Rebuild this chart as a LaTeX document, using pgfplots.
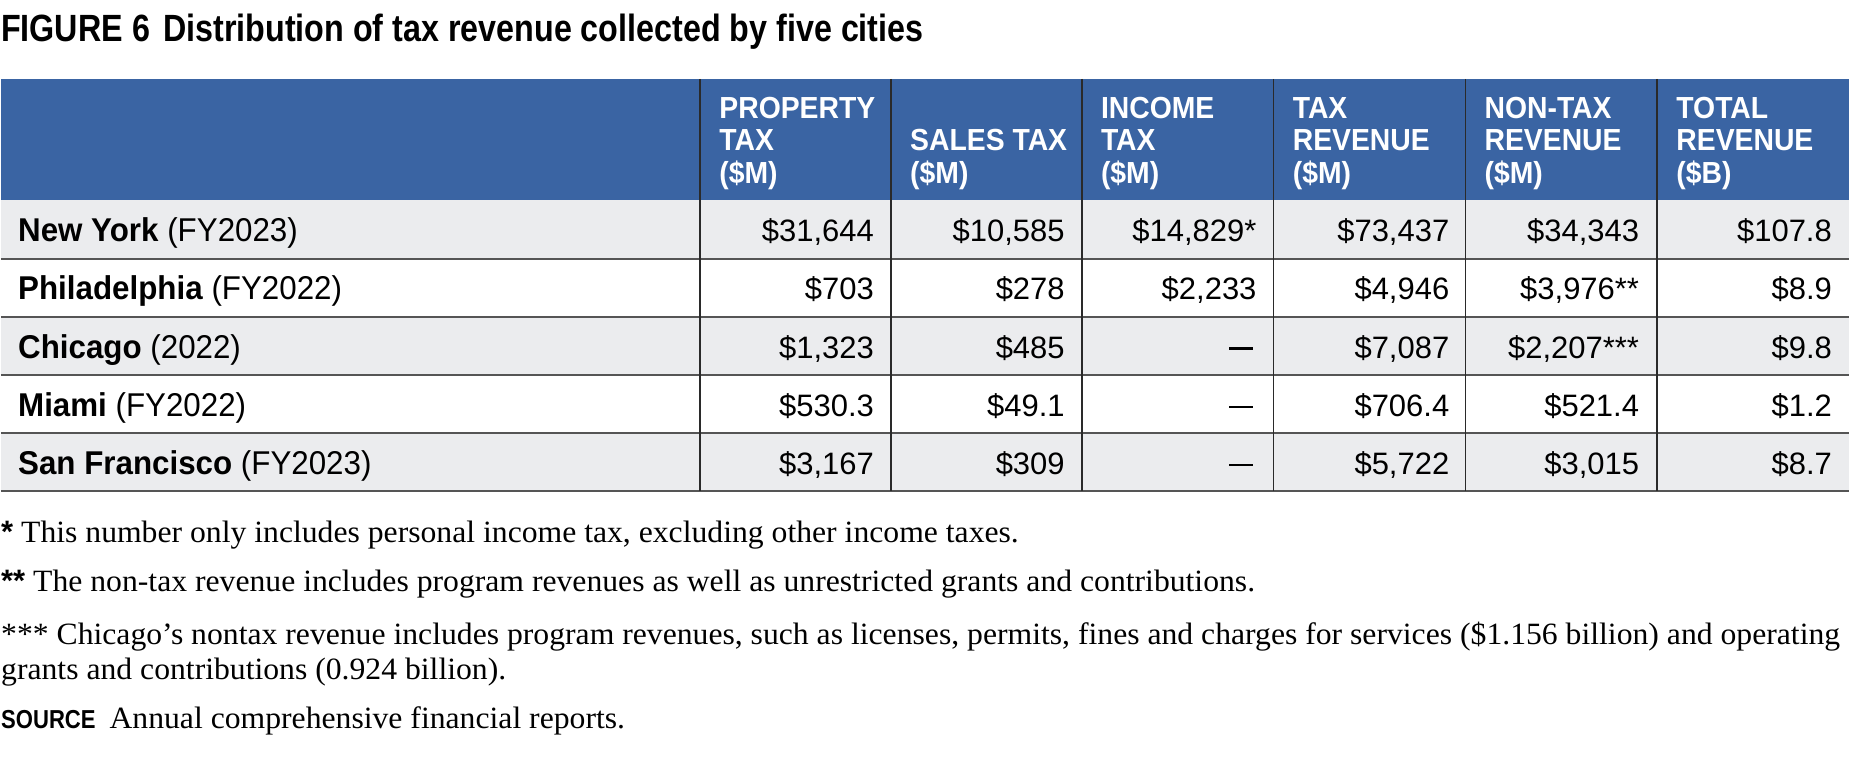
\documentclass[border=0pt]{standalone}
\usepackage{fontspec}
\usepackage{pgfplots}
\pgfplotsset{compat=1.18}
\setmainfont{Liberation Serif}
\newfontfamily\titlefont[FakeStretch=0.85]{Liberation Sans}
\newfontfamily\headfont[FakeStretch=0.93]{Liberation Sans}
\newfontfamily\cityfont[FakeStretch=0.95]{Liberation Sans}
\newfontfamily\numfont{Liberation Sans}
\newfontfamily\notefont[FakeStretch=1.023]{Liberation Serif}
\definecolor{hdrblue}{HTML}{3A64A3}
\definecolor{rowgrey}{HTML}{EBECEE}
\definecolor{rule}{HTML}{555555}
\definecolor{vrule}{HTML}{2A2A2A}
\newcommand{\nodash}{\rule[8.5pt]{24pt}{2.4pt}}
\begin{document}
\begin{tikzpicture}
\begin{axis}[
  width=1850pt, height=775pt, scale only axis,
  xmin=0, xmax=1850, ymin=0, ymax=775, y dir=reverse,
  hide axis, clip=false, anchor=origin, at={(0,0)}]
% frame for bounding box
\draw[draw=none] (axis cs:0,0) rectangle (axis cs:1850,775);
% title
\node[anchor=base west, inner sep=0pt] at (axis cs:0,42) {\titlefont\bfseries\fontsize{38}{44}\selectfont FIGURE 6\hspace{0.35em}Distribution of tax revenue collected by five cities};
% header band
\fill[hdrblue] (axis cs:0,79) rectangle (axis cs:1850,200.5);
% row fills
\fill[rowgrey] (axis cs:0,200.5) rectangle (axis cs:1850,258.8);
\fill[rowgrey] (axis cs:0,317.1) rectangle (axis cs:1850,375.4);
\fill[rowgrey] (axis cs:0,433.7) rectangle (axis cs:1850,492);
% horizontal rules
\pgfplotsinvokeforeach{258.8,317.1,375.4,433.7,492}{
  \draw[rule, line width=2pt] (axis cs:0,#1) -- (axis cs:1850,#1);
}
% vertical rules
\pgfplotsinvokeforeach{700,891,1082,1274,1466,1658}{
  \draw[vrule, line width=1.6pt] (axis cs:#1,79) -- (axis cs:#1,492);
}
% header text
\tikzset{hd/.style={anchor=base west, inner sep=0pt, text=white, font=\headfont\bfseries\fontsize{30.5}{33}\selectfont}}
\node[hd] at (axis cs:719,119) {PROPERTY};
\node[hd] at (axis cs:719,151) {TAX};
\node[hd] at (axis cs:719,184) {(\$M)};
\node[hd] at (axis cs:910,151) {SALES TAX};
\node[hd] at (axis cs:910,184) {(\$M)};
\node[hd] at (axis cs:1101,119) {INCOME};
\node[hd] at (axis cs:1101,151) {TAX};
\node[hd] at (axis cs:1101,184) {(\$M)};
\node[hd] at (axis cs:1293,119) {TAX};
\node[hd] at (axis cs:1293,151) {REVENUE};
\node[hd] at (axis cs:1293,184) {(\$M)};
\node[hd] at (axis cs:1485,119) {NON-TAX};
\node[hd] at (axis cs:1485,151) {REVENUE};
\node[hd] at (axis cs:1485,184) {(\$M)};
\node[hd] at (axis cs:1677,119) {TOTAL};
\node[hd] at (axis cs:1677,151) {REVENUE};
\node[hd] at (axis cs:1677,184) {(\$B)};
% city names
\tikzset{ct/.style={anchor=base west, inner sep=0pt, font=\cityfont\fontsize{33}{38}\selectfont}}
\node[ct] at (axis cs:17,242) {\textbf{New York} (FY2023)};
\node[ct] at (axis cs:17,300.3) {\textbf{Philadelphia} (FY2022)};
\node[ct] at (axis cs:17,358.6) {\textbf{Chicago} (2022)};
\node[ct] at (axis cs:17,416.9) {\textbf{Miami} (FY2022)};
\node[ct] at (axis cs:17,475.2) {\textbf{San Francisco} (FY2023)};
% numbers
\tikzset{nm/.style={anchor=base east, inner sep=0pt, font=\numfont\fontsize{31}{36}\selectfont}}
% row 1
\node[nm] at (axis cs:874,242) {\$31,644};
\node[nm] at (axis cs:1065,242) {\$10,585};
\node[nm] at (axis cs:1257,242) {\$14,829*};
\node[nm] at (axis cs:1450,242) {\$73,437};
\node[nm] at (axis cs:1640,242) {\$34,343};
\node[nm] at (axis cs:1833,242) {\$107.8};
% row 2
\node[nm] at (axis cs:874,300.3) {\$703};
\node[nm] at (axis cs:1065,300.3) {\$278};
\node[nm] at (axis cs:1257,300.3) {\$2,233};
\node[nm] at (axis cs:1450,300.3) {\$4,946};
\node[nm] at (axis cs:1640,300.3) {\$3,976**};
\node[nm] at (axis cs:1833,300.3) {\$8.9};
% row 3
\node[nm] at (axis cs:874,358.6) {\$1,323};
\node[nm] at (axis cs:1065,358.6) {\$485};
\node[nm] at (axis cs:1254,358.6) {\nodash};
\node[nm] at (axis cs:1450,358.6) {\$7,087};
\node[nm] at (axis cs:1640,358.6) {\$2,207***};
\node[nm] at (axis cs:1833,358.6) {\$9.8};
% row 4
\node[nm] at (axis cs:874,416.9) {\$530.3};
\node[nm] at (axis cs:1065,416.9) {\$49.1};
\node[nm] at (axis cs:1254,416.9) {\nodash};
\node[nm] at (axis cs:1450,416.9) {\$706.4};
\node[nm] at (axis cs:1640,416.9) {\$521.4};
\node[nm] at (axis cs:1833,416.9) {\$1.2};
% row 5
\node[nm] at (axis cs:874,475.2) {\$3,167};
\node[nm] at (axis cs:1065,475.2) {\$309};
\node[nm] at (axis cs:1254,475.2) {\nodash};
\node[nm] at (axis cs:1450,475.2) {\$5,722};
\node[nm] at (axis cs:1640,475.2) {\$3,015};
\node[nm] at (axis cs:1833,475.2) {\$8.7};
% footnotes
\tikzset{fn/.style={anchor=base west, inner sep=0pt, font=\notefont\fontsize{31}{36}\selectfont}}
\node[fn] at (axis cs:0,543) {{\numfont\bfseries *} This number only includes personal income tax, excluding other income taxes.};
\node[fn] at (axis cs:0,592) {{\numfont\bfseries **} The non-tax revenue includes program revenues as well as unrestricted grants and contributions.};
\node[fn] at (axis cs:0,645) {*** Chicago’s nontax revenue includes program revenues, such as licenses, permits, fines and charges for services (\$1.156 billion) and operating};
\node[fn] at (axis cs:0,680) {grants and contributions (0.924 billion).};
\node[fn] at (axis cs:0,729) {{\titlefont\bfseries\fontsize{26}{30}\selectfont SOURCE}\hspace{0.45em}Annual comprehensive financial reports.};
\end{axis}
\end{tikzpicture}
\end{document}
